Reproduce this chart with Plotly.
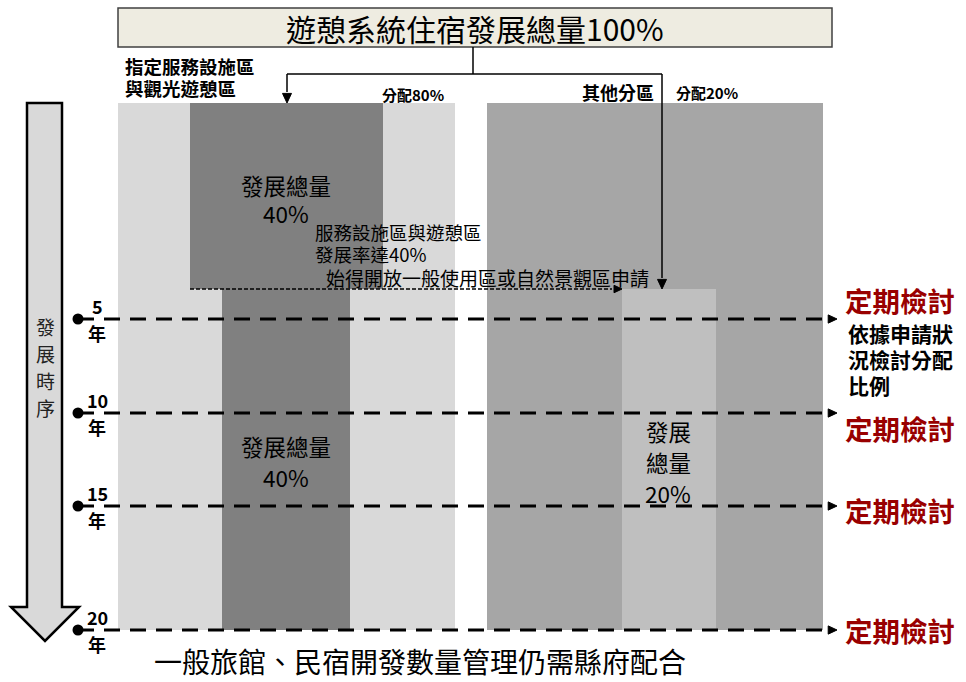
import plotly.graph_objects as go

# ---------------- data (text / values) ----------------
title_text = "遊憩系統住宿發展總量100%"
zone_names = [["指定服務設施區", "與觀光遊憩區"], "其他分區"]
zone_alloc = [80, 20]
dev_share_main = [40, 40]
dev_share_other = 20
trigger_rate = 40
review_years = [5, 10, 15, 20]
review_label = "定期檢討"
review_note = ["依據申請狀", "況檢討分配", "比例"]
timeline_label = "發展時序"
bottom_note = "一般旅館、民宿開發數量管理仍需縣府配合"

# ---------------- layout geometry (pixel canvas) ----------------
W, H = 966, 682
row_y = [319, 413, 506, 630]
red_y = [300, 428, 510, 630]
top_bar, split_y, bottom_bar = 103, 289, 630
left_col = (118, 455)
left_dark_up = (190, 383)
left_dark_low = (222, 350)
right_col = (487, 823)
right_light = (622, 716)

C_LIGHT = "#d9d9d9"
C_DARK = "#808080"
C_MED = "#a6a6a6"
C_RLIGHT = "#bfbfbf"
RED = "#990000"
FONT = "Noto Sans CJK TC"

fig = go.Figure()
shapes = []
ann = []


def rect(x0, x1, y0, y1, color, line=None):
    d = dict(type="rect", xref="x", yref="y", x0=x0, x1=x1, y0=y0, y1=y1,
             fillcolor=color, layer="below")
    d["line"] = line if line else dict(width=0)
    shapes.append(d)


def text(x, y, s, size, color="black", bold=False, xanchor="center", yanchor="middle", align="center"):
    if bold:
        s = "<b>" + s + "</b>"
    ann.append(dict(x=x, y=y, xref="x", yref="y", text=s, showarrow=False,
                    font=dict(family=FONT, size=size, color=color),
                    xanchor=xanchor, yanchor=yanchor, align=align, borderpad=0))


def lines(x, y0, step, items, size, **kw):
    for i, s in enumerate(items):
        text(x, y0 + i * step, s, size, **kw)


def tri(tipx, tipy, direction, size=7, color="black"):
    s = size
    if direction == "right":
        p = f"M{tipx},{tipy} L{tipx-1.6*s},{tipy-s*0.75} L{tipx-1.6*s},{tipy+s*0.75} Z"
    else:  # down
        p = f"M{tipx},{tipy} L{tipx-s*0.75},{tipy-1.6*s} L{tipx+s*0.75},{tipy-1.6*s} Z"
    shapes.append(dict(type="path", path=p, xref="x", yref="y", fillcolor=color,
                       line=dict(color=color, width=1)))


def line(x0, y0, x1, y1, width=1.5, dash="solid", color="black"):
    shapes.append(dict(type="line", xref="x", yref="y", x0=x0, y0=y0, x1=x1, y1=y1,
                       line=dict(color=color, width=width, dash=dash)))


# zone blocks
rect(left_col[0], left_col[1], top_bar, bottom_bar, C_LIGHT)
rect(left_dark_up[0], left_dark_up[1], top_bar, split_y, C_DARK)
rect(left_dark_low[0], left_dark_low[1], split_y, bottom_bar, C_DARK)
rect(right_col[0], right_col[1], top_bar, bottom_bar, C_MED)
rect(right_light[0], right_light[1], split_y, bottom_bar, C_RLIGHT)

# title box
shapes.append(dict(type="rect", xref="x", yref="y", x0=118, x1=832, y0=8, y1=47,
                   fillcolor="#eeece1", line=dict(color="#404040", width=1.5)))
text(475, 28, title_text, 30)

# connectors
line(473, 47, 473, 74, 1.5)
line(287, 74, 662, 74, 1.5)
line(287, 74, 287, 92, 1.5)
tri(287, 103, "down", 6)
line(662, 74, 662, 278, 1.5)
tri(662, 289, "down", 6)

# zone labels
lines(124, 66, 22, zone_names[0], 18.5, bold=True, xanchor="left")
text(445, 94, f"分配{zone_alloc[0]}%", 15, bold=True, xanchor="right")
text(655, 92, zone_names[1], 18, bold=True, xanchor="right")
text(675, 92, f"分配{zone_alloc[1]}%", 15, bold=True, xanchor="left")

# development quantity labels
lines(286, 185, 28, ["發展總量", f"{dev_share_main[0]}%"], 22.5)
lines(286, 446, 31, ["發展總量", f"{dev_share_main[1]}%"], 22.5)
lines(668, 431, 31, ["發展", "總量", f"{dev_share_other}%"], 22.5)

# trigger note + dotted arrow
lines(314, 232, 22, ["服務設施區與遊憩區", f"發展率達{trigger_rate}%"], 18.5, xanchor="left")
text(325, 277, "始得開放一般使用區或自然景觀區申請", 19, xanchor="left")
line(190, 289, 612, 289, 1.3, dash="4px,2px")
tri(622, 289, "right", 5)

# timeline big arrow
ax0, ax1, ahx0, ahx1 = 27, 62, 11, 79
shapes.append(dict(type="path", xref="x", yref="y",
                   path=f"M{ax0},103 L{ax1},103 L{ax1},607 L{ahx1},607 L45,641 L{ahx0},607 L{ax0},607 Z",
                   fillcolor=C_LIGHT, line=dict(color="black", width=2.5)))
lines(45, 326, 27, list(timeline_label), 19, color="#222222")

# review rows
for yr, yy in zip(review_years, row_y):
    line(78, yy, 826, yy, 3, dash="16px,10px")
    tri(837, yy, "right", 5.5)
    text(97, yy - 13, str(yr), 18, bold=True)
    text(97, yy + 14, "年", 18, bold=True)

fig.add_trace(go.Scatter(x=[78] * len(row_y), y=row_y, mode="markers",
                         marker=dict(color="black", size=11), hoverinfo="skip"))

for yy in red_y:
    text(844, yy, review_label, 27.5, color=RED, bold=True, xanchor="left")
lines(847, 333, 26, review_note, 21, bold=True, xanchor="left")

text(420, 661, bottom_note, 28)

fig.update_layout(
    width=W, height=H, margin=dict(l=0, r=0, t=0, b=0),
    paper_bgcolor="white", plot_bgcolor="white", showlegend=False,
    shapes=shapes, annotations=ann,
    xaxis=dict(range=[0, W], visible=False, fixedrange=True),
    yaxis=dict(range=[H, 0], visible=False, fixedrange=True),
)

fig.write_html("out.html", config={"displayModeBar": False},
               post_script="document.body.style.margin='0';")
